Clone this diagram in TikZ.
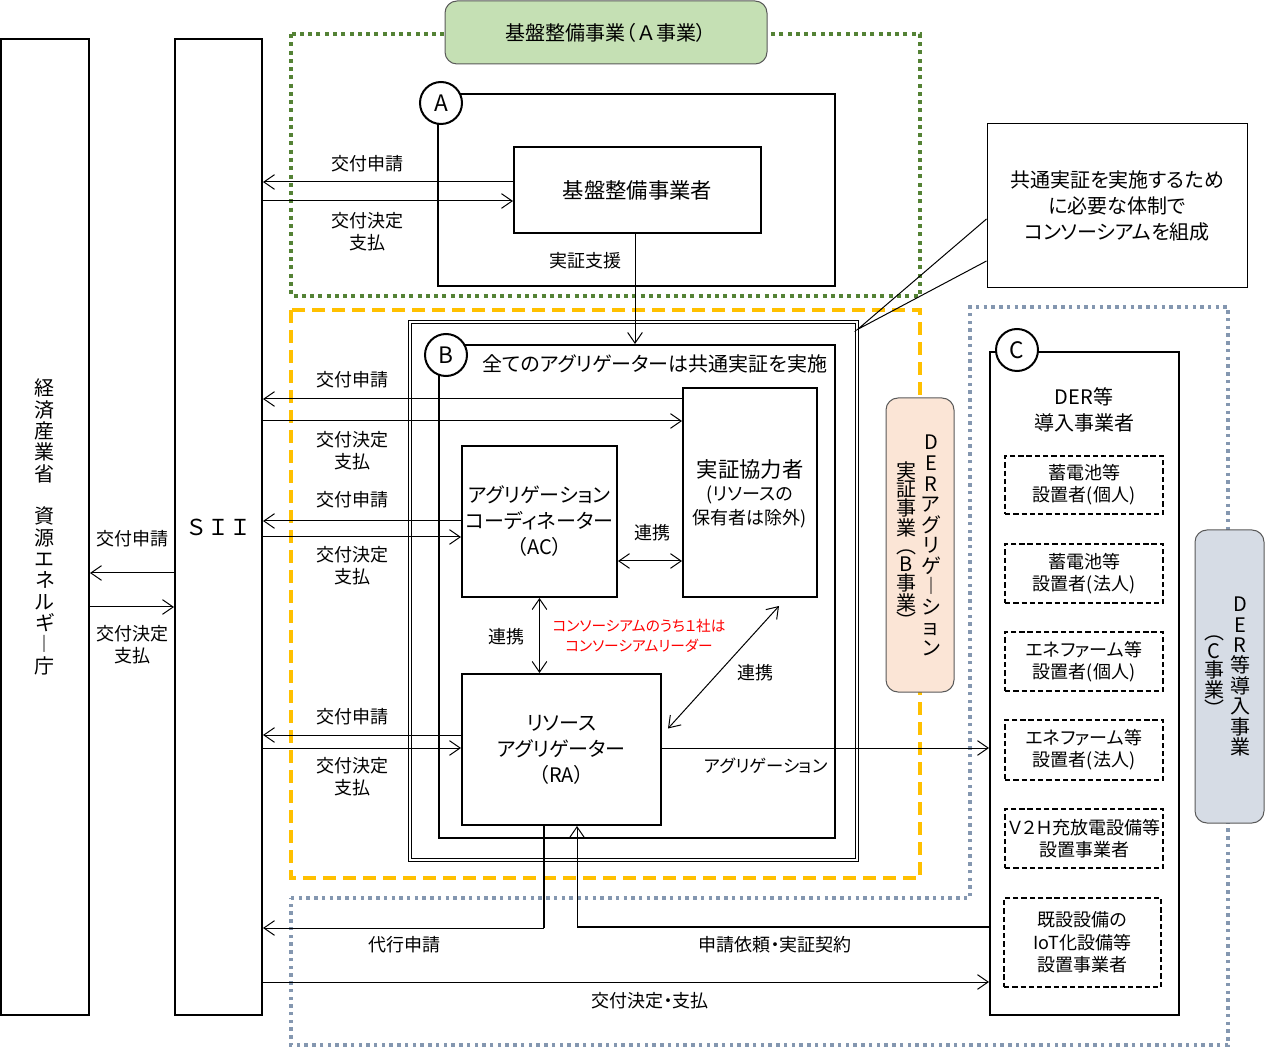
\documentclass[tikz,border=0pt]{standalone}
\usepackage{fontspec}
\setmainfont{Noto Sans CJK JP}[RawFeature=+palt]
\usetikzlibrary{arrows.meta}

\newdimen\px \px=0.75pt
\definecolor{greenline}{HTML}{548235}
\definecolor{greenfill}{HTML}{C5E0B4}
\definecolor{orangeline}{HTML}{FFC000}
\definecolor{orangefill}{HTML}{FBE5D6}
\definecolor{grayline}{HTML}{8497B0}
\definecolor{grayfill}{HTML}{D6DCE5}

\tikzset{
  box/.style={draw, line width=1.5pt, inner sep=0pt, align=center},
  subbox/.style={draw, line width=1.2pt, dash pattern=on 4pt off 2.2pt, inner sep=0pt, align=center,
    font=\fontsize{13.5}{16.5}\selectfont},
  tag/.style={circle, draw, line width=1.5pt, fill=white, minimum size=42\px, inner sep=0pt,
    font=\fontsize{17}{17}\selectfont},
  pill/.style={draw=black!65, line width=0.75pt, rounded corners=9pt, inner sep=0pt},
  lbl/.style={align=center, inner sep=0pt, font=\fontsize{13.5}{16.5}\selectfont},
  ttl/.style={align=center, inner sep=0pt, font=\fontsize{15}{19.5}\selectfont},
  tate/.style={align=center, inner sep=0pt},
  greendot/.style={draw=greenline, line width=3pt, dash pattern=on 3pt off 3.2pt},
  orangedash/.style={draw=orangeline, line width=2.4pt, dash pattern=on 9.5pt off 5.5pt},
  graydot/.style={draw=grayline, line width=2.6pt, dash pattern=on 2.6pt off 3.2pt},
}

\begin{document}
\begin{tikzpicture}[x=0.75pt, y=-0.75pt, line width=0.75pt,
  >={Straight Barb[length=8pt,width=11pt]}]
\useasboundingbox (0,0) rectangle (1265,1048);

% regions A, B, C
\draw[greendot] (291,34) rectangle (920,296);
\draw[orangedash] (291,310) rectangle (920,878);
\draw[graydot] (291,898) -- (970,898) -- (970,307) -- (1228,307) -- (1228,1045) -- (291,1045) -- cycle;

% left columns
\node[box, minimum width=88\px, minimum height=976\px] (meti) at (45,527) {};
\node[tate, font=\fontsize{15}{16}\selectfont] (metitxt) at (45,527)
  {経\\済\\産\\業\\省\\\mbox{}\\資\\源\\エ\\ネ\\ル\\ギ\\︱\\庁};
\node[box, minimum width=87\px, minimum height=976\px, font=\fontsize{16.5}{18}\selectfont] (sii) at (218.5,527)
  {Ｓ\hspace{4pt}Ｉ\hspace{4pt}Ｉ};

% A
\node[box, minimum width=397\px, minimum height=192\px] (abox) at (636.5,190) {};
\node[box, minimum width=247\px, minimum height=86\px, font=\fontsize{16}{19}\selectfont] (kiban) at (637.5,190) {基盤整備事業者};
\node[tag] (ca) at (441,103) {A};
\node[pill, fill=greenfill, minimum width=322\px, minimum height=63\px, font=\fontsize{15}{18}\selectfont] (apill) at (606,32.5)
  {基盤整備事業（\hspace{2pt}Ａ\hspace{2pt}事業）};

% B
\node[draw, double, double distance=2.5\px, line width=1.2\px, inner sep=0pt,
  minimum width=447\px, minimum height=538\px] (bframe) at (633.5,591) {};
\node[box, minimum width=396\px, minimum height=493\px] (binner) at (637,591.5) {};
\node[tag] (cb) at (446,355) {B};
\node[ttl] (btitle) at (655,364) {全てのアグリゲーターは共通実証を実施};
\node[box, minimum width=134\px, minimum height=209\px] (kyoryoku) at (750,492.5) {};
\node[ttl, font=\fontsize{16}{19}\selectfont] (kyoryokutxt) at (750,469) {実証協力者};
\node[lbl, font=\fontsize{13.5}{18}\selectfont] (kyoryokusub) at (750,507) {(リソースの\\保有者は除外)};
\node[box, minimum width=155\px, minimum height=151\px, font=\fontsize{15}{19.5}\selectfont] (ac) at (539.5,521.5)
  {アグリゲーション\\コーディネーター\\（AC）};
\node[box, minimum width=199\px, minimum height=151\px, font=\fontsize{15}{19.5}\selectfont] (ra) at (561.5,749.5)
  {リソース\\アグリゲーター\\（RA）};

% C
\node[box, minimum width=189\px, minimum height=663\px] (cbox) at (1084.5,683.5) {};
\node[tag] (cc) at (1017,350) {C};
\node[ttl] (ctitle) at (1084,410) {DER等\\導入事業者};
\node[subbox, minimum width=158\px, minimum height=58\px] (d1) at (1084,485) {蓄電池等\\設置者(個人)};
\node[subbox, minimum width=158\px, minimum height=59\px] (d2) at (1084,573.5) {蓄電池等\\設置者(法人)};
\node[subbox, minimum width=158\px, minimum height=59\px] (d3) at (1084,661.5) {エネファーム等\\設置者(個人)};
\node[subbox, minimum width=158\px, minimum height=60\px] (d4) at (1084,750) {エネファーム等\\設置者(法人)};
\node[subbox, minimum width=158\px, minimum height=59\px] (d5) at (1084,838.5) {Ｖ２Ｈ充放電設備等\\設置事業者};
\node[subbox, minimum width=157\px, minimum height=89\px, font=\fontsize{13.5}{17}\selectfont] (d6) at (1082.5,942.5) {既設設備の\\IoT化設備等\\設置事業者};

% side labels
\node[pill, fill=orangefill, minimum width=68\px, minimum height=294\px] (bpill) at (920,545) {};
\node[tate, font=\fontsize{15}{15.4}\selectfont] (bpillr) at (931,545.5) {D\\E\\R\\ア\\グ\\リ\\ゲ\\︱\\シ\\ョ\\ン};
\node[tate, font=\fontsize{15}{13.8}\selectfont] (bpilll) at (906,545) {実\\証\\事\\業\\︵\\B\\事\\業\\︶};
\node[pill, fill=grayfill, minimum width=69\px, minimum height=293\px] (cpill) at (1229.5,676.5) {};
\node[tate, font=\fontsize{15}{15.3}\selectfont] (cpillr) at (1240,676.5) {D\\E\\R\\等\\導\\入\\事\\業};
\node[tate, font=\fontsize{15}{14.5}\selectfont] (cpilll) at (1214,676) {︵\\C\\事\\業\\︶};

% callout
\node[draw, fill=white, minimum width=260\px, minimum height=164\px, ttl] (note) at (1117,206)
  {共通実証を実施するため\\に必要な体制で\\コンソーシアムを組成};
\coordinate (tip) at ([shift={(0,8)}]bframe.north east);
\draw (note.west |- 0,219) -- (tip) -- (note.west |- 0,261);

% arrow labels
\node[lbl] (a1) at (367,164) {交付申請};
\node[lbl] (a2) at (367,232) {交付決定\\支払};
\node[lbl] (shien) at (585,261) {実証支援};
\node[lbl] (b1) at (352,380) {交付申請};
\node[lbl] (b2) at (352,451) {交付決定\\支払};
\node[lbl] (b3) at (352,500) {交付申請};
\node[lbl] (b4) at (352,566) {交付決定\\支払};
\node[lbl] (b5) at (352,717) {交付申請};
\node[lbl] (b6) at (352,777) {交付決定\\支払};
\node[lbl] (m1) at (132,539) {交付申請};
\node[lbl] (m2) at (132,645) {交付決定\\支払};
\node[lbl] (r1) at (652,533) {連携};
\node[lbl] (r2) at (506,637) {連携};
\node[lbl] (r3) at (755,673) {連携};
\node[lbl, text=red, font=\fontsize{11}{15}\selectfont] (leader) at (639,636) {コンソーシアムのうち１社は\\コンソーシアムリーダー};
\node[lbl, font=\fontsize{13}{16}\selectfont] (aggr) at (766,766) {アグリゲーション};
\node[lbl] (daikou) at (404,945) {代行申請};
\node[lbl] (irai) at (775,945) {申請依頼・実証契約};
\node[lbl] (shiharai) at (650,1001) {交付決定・支払};

% connectors
\path[->]
(kiban.west |- 0,182) edge (sii.east |- 0,182)
(sii.east |- 0,201) edge (kiban.west |- 0,201)
(kyoryoku.west |- 0,399) edge (sii.east |- 0,399)
(sii.east |- 0,421) edge (kyoryoku.west |- 0,421)
(ac.west |- 0,521) edge (sii.east |- 0,521)
(sii.east |- 0,537) edge (ac.west |- 0,537)
(ra.west |- 0,735) edge (sii.east |- 0,735)
(sii.east |- 0,748) edge (ra.west |- 0,748)
(sii.west |- 0,573) edge (meti.east |- 0,573)
(meti.east |- 0,607) edge (sii.west |- 0,607)
(kiban.south -| 635,0) edge (binner.north -| 635,0)
(ra.east |- 0,748) edge (cbox.west |- 0,748)
(sii.east |- 0,982) edge (cbox.west |- 0,982)
;
\path[<->]
(ac.east |- 0,561) edge (kyoryoku.west |- 0,561)
(ac.south) edge (ac.south |- ra.north)
([shift={(29,8)}]kyoryoku.south) edge ([shift={(6,-21)}]ra.east)
;
\draw[line width=1.5pt] (ra.south -| 544,0) -- (544,928) coordinate (dk);
\draw[->] (dk) -- (sii.east |- dk);
\draw[line width=1.5pt] (cbox.west |- 0,927) -- (577,927) coordinate (ir);
\draw[->] (ir) -- (ra.south -| ir);
\end{tikzpicture}
\end{document}
